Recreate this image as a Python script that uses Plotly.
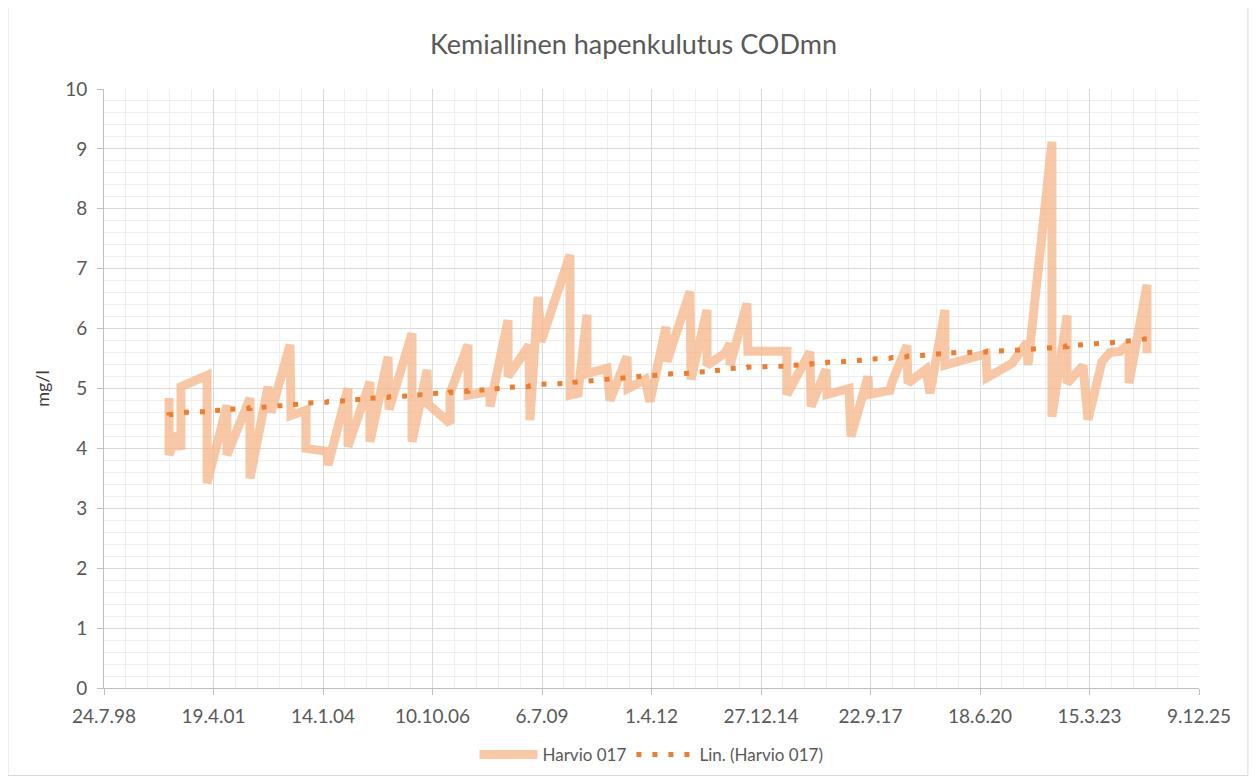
import numpy as np
import pandas as pd
import plotly.graph_objects as go

# ---------------- data ----------------
series_name = "Harvio 017"
trend_name = "Lin. (Harvio 017)"
title_text = "Kemiallinen hapenkulutus CODmn"
y_title = "mg/l"

dates = [
    "2000-03-09", "2000-03-09", "2000-05-21", "2000-06-26", "2000-06-26",
    "2001-02-19", "2001-02-19", "2001-08-20", "2001-08-20", "2002-03-18",
    "2002-03-18", "2002-08-30", "2002-09-26", "2003-03-19", "2003-03-28",
    "2003-08-12", "2003-08-12", "2004-02-19", "2004-02-29", "2004-08-29",
    "2004-08-29", "2005-03-18", "2005-03-18", "2005-08-30", "2005-09-08",
    "2006-04-06", "2006-04-06", "2006-08-21", "2006-08-30", "2007-03-19",
    "2007-03-19", "2007-08-30", "2007-08-30", "2008-03-18", "2008-03-18",
    "2008-08-30", "2008-08-30", "2009-03-09", "2009-03-18", "2009-05-31",
    "2009-06-27", "2010-03-19", "2010-03-19", "2010-05-31", "2010-08-21",
    "2010-08-21", "2011-02-20", "2011-03-19", "2011-08-21", "2011-08-30",
    "2012-02-02", "2012-03-18", "2012-08-11", "2012-08-20", "2013-03-19",
    "2013-03-28", "2013-08-21", "2013-08-21", "2014-02-01", "2014-03-19",
    "2014-03-19", "2014-08-21", "2014-08-30", "2015-08-21", "2015-08-21",
    "2016-03-18", "2016-03-28", "2016-08-12", "2016-08-21", "2017-03-10",
    "2017-03-28", "2017-08-30", "2017-09-08", "2018-03-19", "2018-04-06",
    "2018-08-21", "2018-08-30", "2019-02-11", "2019-03-19", "2019-08-03",
    "2019-08-03", "2020-08-12", "2020-08-21", "2021-04-06", "2021-08-21",
    "2021-08-30", "2022-04-06", "2022-04-06", "2022-08-22", "2022-08-22",
    "2023-01-15", "2023-03-01", "2023-07-07", "2023-09-18", "2023-12-18",
    "2024-03-10", "2024-03-10", "2024-08-21", "2024-08-21",
]

values = [
    4.84, 3.89, 4.25, 3.98, 5.03,
    5.22, 3.42, 4.72, 3.89, 4.84,
    3.50, 5.03, 4.60, 5.73, 4.55,
    4.64, 4.00, 3.95, 3.72, 5.00,
    4.03, 5.11, 4.11, 5.53, 4.65,
    5.92, 4.11, 5.31, 4.74, 4.42,
    4.92, 5.73, 4.89, 4.95, 4.70,
    6.14, 5.20, 5.72, 4.47, 6.53,
    5.78, 7.23, 4.89, 4.92, 6.23,
    5.25, 5.34, 4.80, 5.53, 5.00,
    5.15, 4.78, 6.03, 5.45, 6.62,
    5.15, 6.31, 5.39, 5.59, 5.75,
    5.39, 6.42, 5.62, 5.62, 4.90,
    5.61, 4.70, 5.32, 4.90, 5.00,
    4.20, 5.20, 4.90, 4.97, 5.10,
    5.72, 5.09, 5.32, 4.92, 6.31,
    5.39, 5.58, 5.18, 5.42, 5.77,
    5.39, 9.12, 4.53, 6.22, 5.09,
    5.38, 4.48, 5.45, 5.60, 5.62,
    5.75, 5.09, 6.73, 5.59,
]

x_axis_start = "1998-07-24"
x_axis_end = "2025-12-09"
major_step_days = 1000
minor_step_days = 200
y_min, y_max = 0, 10

# ---------------- linear trend (line-chart style: x = 1..n) ----------------
d = pd.to_datetime(dates)
idx = np.arange(1, len(values) + 1, dtype=float)
coef = np.polyfit(idx, np.array(values), 1)
trend_y = list(np.polyval(coef, idx))

DAY_MS = 86400000
text_color = "#595959"
font_family = "Lato, 'Open Sans', sans-serif"

# figure is placed with an 8px page margin, so the figure itself is 8px smaller
W, H = 1251, 770

fig = go.Figure()
fig.add_trace(go.Scatter(
    x=d, y=values, mode="lines", name=series_name,
    line=dict(color="rgba(245,178,130,0.72)", width=9),
))
fig.add_trace(go.Scatter(
    x=d, y=trend_y, mode="lines", name=trend_name,
    line=dict(color="#ED7D31", width=5, dash="5px,11px"),
))

fig.update_layout(
    width=W, height=H,
    margin=dict(l=96, r=60, t=81, b=90, autoexpand=False),
    paper_bgcolor="white", plot_bgcolor="white",
    font=dict(family=font_family, color=text_color, size=17),
    title=dict(text=title_text, x=0.5, xanchor="center", y=1 - 37 / H,
               yanchor="middle", font=dict(size=27, color=text_color)),
    showlegend=True,
    legend=dict(orientation="h", x=0.5, xanchor="center",
                yref="container", y=1 - 747 / H, yanchor="middle",
                font=dict(size=17, color=text_color), itemwidth=58,
                traceorder="normal"),
    shapes=[dict(type="rect", xref="paper", yref="paper",
                 x0=-0.0877, x1=1.0447, y0=-0.146, y1=1.145,
                 line=dict(color="#d9d9d9", width=1), layer="below")],
)

fig.update_xaxes(
    type="date", automargin=False,
    range=[x_axis_start, x_axis_end],
    tick0=x_axis_start, dtick=major_step_days * DAY_MS,
    tickformat="%-d.%-m.%y",
    showgrid=True, gridcolor="#d9d9d9", gridwidth=1,
    showline=True, linecolor="#bfbfbf", linewidth=1, mirror=False,
    ticks="outside", ticklen=6, tickcolor="#bfbfbf",
    ticklabelstandoff=5,
    tickfont=dict(size=19, color=text_color),
    minor=dict(tick0=x_axis_start, dtick=minor_step_days * DAY_MS,
               showgrid=True, gridcolor="#efefef", gridwidth=1, ticks=""),
    zeroline=False,
)
fig.update_yaxes(
    automargin=False,
    range=[y_min, y_max], dtick=1, tick0=0,
    showgrid=True, gridcolor="#d9d9d9", gridwidth=1,
    showline=True, linecolor="#bfbfbf", linewidth=1,
    ticks="outside", ticklen=6, tickcolor="#bfbfbf",
    ticklabelstandoff=6,
    tickfont=dict(size=19, color=text_color),
    minor=dict(dtick=0.2, showgrid=True, gridcolor="#efefef", gridwidth=1, ticks=""),
    title=dict(text=y_title, font=dict(size=18, color="#404040"), standoff=10),
    zeroline=False,
)

fig.write_html("out.html")
